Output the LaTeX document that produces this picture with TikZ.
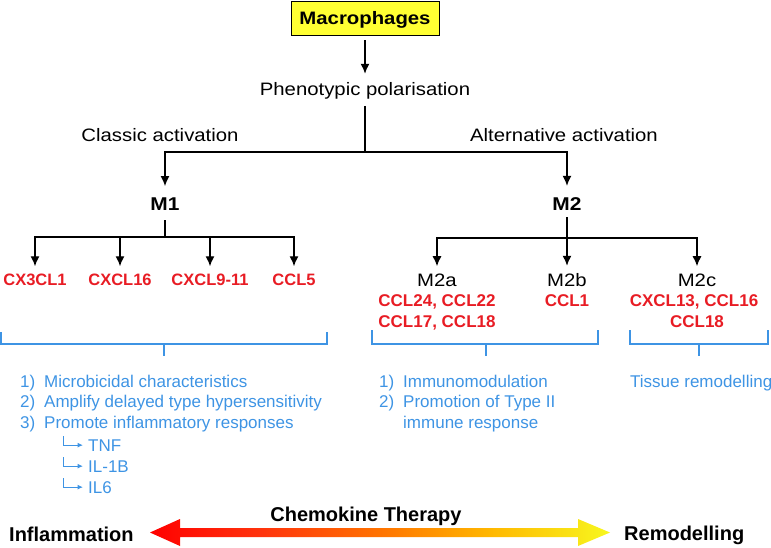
\documentclass[tikz,border=0pt]{standalone}
\usepackage{fontspec}
\setmainfont{Liberation Sans}
\newfontfamily\widefont[FakeStretch=1.13]{Liberation Sans}
\usetikzlibrary{arrows.meta}
\definecolor{mred}{RGB}{232,28,36}
\definecolor{mblue}{RGB}{62,148,228}
\definecolor{myellow}{RGB}{255,255,51}
\pgfdeclarehorizontalshading{chemo}{100bp}{rgb(0bp)=(1,0,0); rgb(25bp)=(1,0,0); rgb(37bp)=(1,0.2,0.05); rgb(50bp)=(1,0.45,0); rgb(62bp)=(1,0.72,0); rgb(75bp)=(0.97,0.97,0.12); rgb(100bp)=(0.97,0.97,0.12)}
\tikzset{
  txt/.style={font=\widefont\fontsize{18}{21}\selectfont, inner sep=2pt, anchor=base},
  btxt/.style={font=\widefont\bfseries\fontsize{18.5}{21}\selectfont, inner sep=2pt, anchor=base},
  redl/.style={font=\bfseries\fontsize{16.5}{21}\selectfont, text=mred, inner sep=2pt, anchor=base},
  redm/.style={font=\bfseries\fontsize{17}{21}\selectfont, text=mred, inner sep=2pt, anchor=base},
  bluel/.style={font=\fontsize{17}{21}\selectfont, text=mblue, inner sep=0pt, anchor=base west},
  bigl/.style={font=\bfseries\fontsize{20}{24}\selectfont, inner sep=0pt},
  arr/.style={-{Latex[length=10pt,width=9pt]}, line width=1.4pt},
  ln/.style={line width=1.4pt},
  brk/.style={mblue, line width=1.6pt},
  subarr/.style={mblue, line width=1pt, -{Latex[length=5.5pt,width=5pt]}},
}
\begin{document}
\begin{tikzpicture}[x=1pt,y=-1pt]
\useasboundingbox (0,0) rectangle (771,547);

% top
\node[draw, fill=myellow, line width=0.8pt, minimum width=148pt, minimum height=34pt,
      font=\widefont\bfseries\fontsize{18}{21}\selectfont, inner sep=0pt,
      text height=12.9pt, text depth=0pt] (mac) at (365,18) {Macrophages};
\node[txt] (phen) at (365,95) {Phenotypic polarisation};
\draw[arr, shorten <=5pt, shorten >=6pt] (mac) -- (phen);

\coordinate (j) at (365,152);
\draw[ln, shorten <=5pt] (phen) -- (j);

\node[txt] (cls) at (160,141) {Classic activation};
\node[txt] (alt) at (564,141) {Alternative activation};

\node[btxt] (m1) at (165,210) {M1};
\node[btxt] (m2) at (567,210) {M2};
\draw[arr, shorten >=9pt] (j) -| (m1);
\draw[arr, shorten >=9pt] (j) -| (m2);

% M1 branch
\coordinate (m1j) at (165,237);
\draw[ln, shorten <=8pt] (m1) -- (m1j);
\node[redl] (c1) at (35,285) {CX3CL1};
\node[redl] (c2) at (120,285) {CXCL16};
\node[redl] (c3) at (210,285) {CXCL9-11};
\node[redl] (c4) at (294,285) {CCL5};
\foreach \n in {c1,c2,c3,c4}{
  \draw[arr, shorten >=5pt] (m1j) -| (\n.north);
}

% M2 branch
\node[txt] (m2a) at (437,286) {M2a};
\node[txt] (m2b) at (567,286) {M2b};
\node[txt] (m2c) at (697,286) {M2c};
\coordinate (m2j) at (567,238);
\draw[arr, shorten <=5pt, shorten >=5pt] (m2) -- (m2b);
\draw[arr, shorten >=5pt] (m2j) -| (m2a);
\draw[arr, shorten >=5pt] (m2j) -| (m2c);

\node[redm] (r2a1) at (437,306) {CCL24, CCL22};
\node[redm] (r2a2) at (437,327) {CCL17, CCL18};
\node[redm] (r2b1) at (567,306) {CCL1};
\node[redm] (r2c1) at (694,306) {CXCL13, CCL16};
\node[redm] (r2c2) at (697,327) {CCL18};

% brackets
\draw[brk] (1,332) |- (327,344) -- (327,332);
\draw[brk] (164,344) -- (164,356);
\draw[brk] (372,330) |- (598,344) -- (598,330);
\draw[brk] (486,344) -- (486,356);
\draw[brk] (630,330) |- (768,344) -- (768,330);
\draw[brk] (699,344) -- (699,356);

% lists
\node[bluel] (l1) at (20,387) {\makebox[24pt][l]{1)}Microbicidal characteristics};
\node[bluel] (l2) at (20,407.5) {\makebox[24pt][l]{2)}Amplify delayed type hypersensitivity};
\node[bluel] (l3) at (20,428) {\makebox[24pt][l]{3)}Promote inflammatory responses};
\node[bluel] (tnf) at (88,451) {TNF};
\node[bluel] (il1b) at (88,472) {IL-1B};
\node[bluel] (il6) at (88,493) {IL6};
\foreach \n in {tnf,il1b,il6}{
  \draw[subarr] ([xshift=-25pt,yshift=9pt]\n.west) |- ([xshift=-5pt]\n.west);
}
\node[bluel] (mm1) at (379,387) {\makebox[24pt][l]{1)}Immunomodulation};
\node[bluel] (mm2) at (379,407.5) {\makebox[24pt][l]{2)}Promotion of Type II};
\node[bluel] (mm3) at (403,428) {immune response};
\node[bluel] (tis) at (630,387) {Tissue remodelling};

% bottom arrow
\shade[shading=chemo] (150,532.5) -- (180,519) -- (180,528) -- (578,528) -- (578,519)
  -- (610,532.5) -- (578,546) -- (578,537) -- (180,537) -- (180,546) -- cycle;
\node[bigl, anchor=base] (chemo) at (366,521) {Chemokine Therapy};
\node[bigl, anchor=base west] (infl) at (9,541) {Inflammation};
\node[bigl, anchor=base west] (remo) at (624,540) {Remodelling};
\end{tikzpicture}
\end{document}
